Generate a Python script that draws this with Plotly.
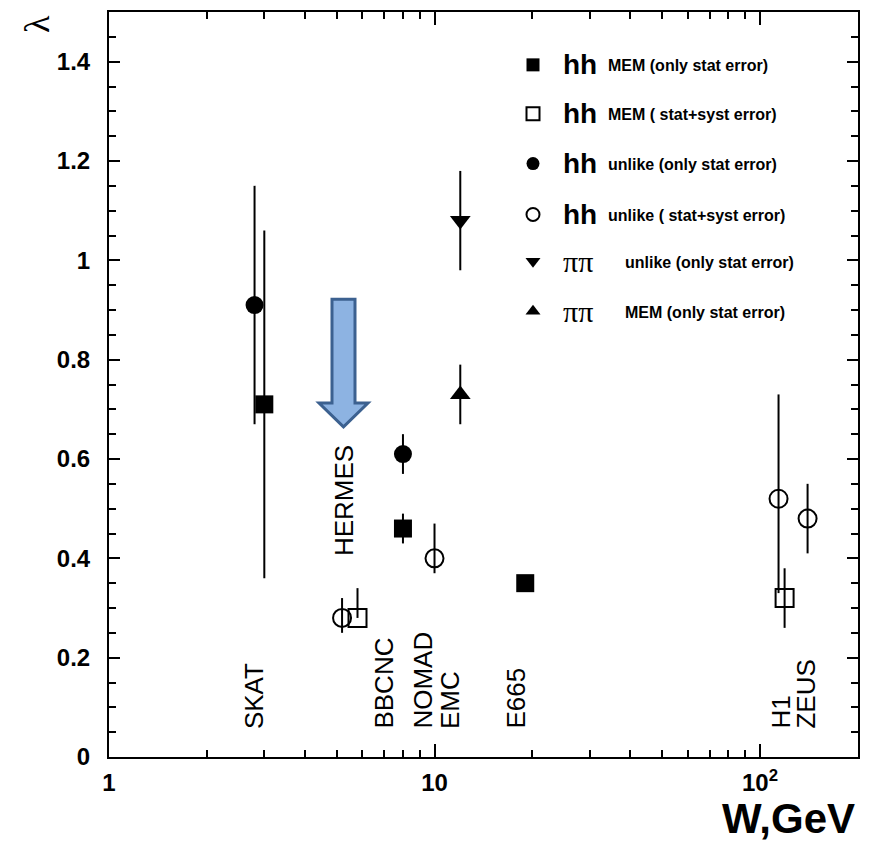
import plotly.graph_objects as go
import math

# ---------------- data ----------------
# hh MEM (only stat error) - filled squares
mem_stat_w = [3.0, 8.0, 19.0]
mem_stat_l = [0.71, 0.46, 0.35]
mem_stat_ep = [0.35, 0.03, 0.0]
mem_stat_em = [0.35, 0.03, 0.01]

# hh MEM (stat+syst error) - open squares
mem_sys_w = [5.8, 119.0]
mem_sys_l = [0.28, 0.32]
mem_sys_ep = [0.06, 0.06]
mem_sys_em = [0.0, 0.06]

# hh unlike (only stat error) - filled circles
unl_stat_w = [2.8, 8.0]
unl_stat_l = [0.91, 0.61]
unl_stat_ep = [0.24, 0.04]
unl_stat_em = [0.24, 0.04]

# hh unlike (stat+syst error) - open circles
unl_sys_w = [5.2, 10.0, 114.0, 140.0]
unl_sys_l = [0.28, 0.40, 0.52, 0.48]
unl_sys_ep = [0.04, 0.07, 0.21, 0.07]
unl_sys_em = [0.03, 0.03, 0.19, 0.07]

# pi pi unlike (only stat error) - down triangles
pp_unl_w = [12.0]
pp_unl_l = [1.08]
pp_unl_ep = [0.10]
pp_unl_em = [0.10]

# pi pi MEM (only stat error) - up triangles
pp_mem_w = [12.0]
pp_mem_l = [0.73]
pp_mem_ep = [0.06]
pp_mem_em = [0.06]

# experiment labels
exp_names = ["SKAT", "HERMES", "BBCNC", "NOMAD", "EMC", "E665", "H1", "ZEUS"]

legend_big = ["hh", "hh", "hh", "hh", "ππ", "ππ"]
legend_small = ["MEM (only stat error)", "MEM ( stat+syst error)",
                "unlike (only stat error)", "unlike ( stat+syst error)",
                "unlike (only stat error)", "MEM (only stat error)"]

x_tickvals = [1, 10, 100]
x_ticktext = ["1", "10", "10<sup>2</sup>"]

# ---------------- layout geometry (screen pixels) ----------------
OFF = 8                      # page body margin of the browser
SW, SH = 869, 851
W, H = SW - OFF, SH - OFF    # figure size
L, R, T, B = 109, 858, 10, 757  # plot area edges in screen pixels


def px(xp):
    return (xp - L) / (R - L)


def py(yp):
    return (B - yp) / (B - T)


FONT = "Liberation Sans"
BLK = "black"

fig = go.Figure()


def add_series(xs, ys, ep, em, symbol, size, filled=True):
    fig.add_trace(go.Scatter(
        x=xs, y=ys, mode="markers",
        marker=dict(symbol=symbol, size=size, color=BLK,
                    line=dict(color=BLK, width=2 if not filled else 0)),
        error_y=dict(type="data", symmetric=False, array=ep, arrayminus=em,
                     color=BLK, thickness=2, width=0),
        showlegend=False, hoverinfo="x+y"))


add_series(mem_stat_w, mem_stat_l, mem_stat_ep, mem_stat_em, "square", 18)
add_series(mem_sys_w, mem_sys_l, mem_sys_ep, mem_sys_em, "square-open", 18, False)
add_series(unl_stat_w, unl_stat_l, unl_stat_ep, unl_stat_em, "circle", 18)
add_series(unl_sys_w, unl_sys_l, unl_sys_ep, unl_sys_em, "circle-open", 18, False)
add_series(pp_unl_w, pp_unl_l, pp_unl_ep, pp_unl_em, "triangle-down", 18)
add_series(pp_mem_w, pp_mem_l, pp_mem_ep, pp_mem_em, "triangle-up", 18)

# ---------------- legend (custom) ----------------
leg_rows_y = [63, 112, 162, 213, 260, 310]
leg_symbols = ["square", "square-open", "circle", "circle-open", "triangle-down", "triangle-up"]
for yy, sym in zip(leg_rows_y, leg_symbols):
    fig.add_trace(go.Scatter(
        x=[px(533)], y=[py(yy)], xaxis="x2", yaxis="y2", mode="markers",
        marker=dict(symbol=sym, size=13, color=BLK,
                    line=dict(color=BLK, width=2 if "open" in sym else 0)),
        showlegend=False, hoverinfo="skip"))

annotations = []
for i, (yy, big, small) in enumerate(zip(leg_rows_y, legend_big, legend_small)):
    is_pi = big == "ππ"
    annotations.append(dict(
        x=px(561), y=py(yy), xref="paper", yref="paper", text=big,
        showarrow=False, xanchor="left", yanchor="middle",
        font=dict(family="Liberation Serif" if is_pi else FONT,
                  size=30 if is_pi else 28, color=BLK,
                  weight="normal" if is_pi else "bold")))
    annotations.append(dict(
        x=px(623 if is_pi else 606), y=py(yy + 1), xref="paper", yref="paper", text=small,
        showarrow=False, xanchor="left", yanchor="middle",
        font=dict(family=FONT, size=16, color=BLK, weight="bold")))

# experiment labels (rotated)
lab_x = [254, 344, 384, 423, 450, 516, 781, 806]
lab_y = [731, 558, 731, 731, 731, 731, 731, 731]
for name, xx, yy in zip(exp_names, lab_x, lab_y):
    annotations.append(dict(
        x=px(xx), y=py(yy), xref="paper", yref="paper", text=name,
        showarrow=False, textangle=-90, xanchor="center", yanchor="bottom",
        font=dict(family=FONT, size=26, color=BLK)))

# axis titles
annotations.append(dict(
    x=px(857), y=py(819), xref="paper", yref="paper", text="W,GeV",
    showarrow=False, xanchor="right", yanchor="middle",
    font=dict(family=FONT, size=42, color=BLK, weight="bold")))
annotations.append(dict(
    x=px(37), y=py(22), xref="paper", yref="paper", text="λ",
    showarrow=False, textangle=-90, xanchor="center", yanchor="middle",
    font=dict(family="Liberation Serif", size=36, color=BLK)))

# HERMES arrow
pts = [(332, 298), (355, 298), (355, 402), (368, 402), (343.5, 426), (319, 402), (332, 402)]
path = "M " + " L ".join(f"{px(a):.5f},{py(b):.5f}" for a, b in pts) + " Z"
shapes = [dict(type="path", xref="paper", yref="paper", path=path,
               fillcolor="#8DB3E2", line=dict(color="#3C6190", width=3))]

minor_x = [2, 3, 4, 5, 6, 7, 8, 9, 20, 30, 40, 50, 60, 70, 80, 90, 200]

fig.update_layout(
    width=W, height=H,
    margin=dict(l=L - OFF, r=SW - R, t=T - OFF, b=SH - B),
    paper_bgcolor="white", plot_bgcolor="white",
    font=dict(family=FONT, color=BLK),
    xaxis=dict(type="log", range=[0, math.log10(200)],
               showline=True, linecolor=BLK, linewidth=2, mirror="ticks",
               ticks="inside", ticklen=13, tickwidth=2, tickcolor=BLK,
               tickvals=x_tickvals, ticktext=x_ticktext,
               tickfont=dict(family=FONT, size=24, color=BLK, weight="bold"),
               ticklabelstandoff=3,
               minor=dict(tickvals=minor_x, ticks="inside", ticklen=7,
                          tickwidth=2, tickcolor=BLK, showgrid=False),
               showgrid=False, zeroline=False),
    yaxis=dict(range=[0, 1.5], showline=True, linecolor=BLK, linewidth=2,
               mirror="ticks", ticks="inside", ticklen=11, tickwidth=2,
               tickcolor=BLK, tickmode="array",
               tickvals=[0, 0.2, 0.4, 0.6, 0.8, 1.0, 1.2, 1.4],
               ticktext=["0", "0.2", "0.4", "0.6", "0.8", "1", "1.2", "1.4"],
               tickfont=dict(family=FONT, size=24, color=BLK, weight="bold"),
               ticklabelstandoff=12,
               minor=dict(dtick=0.05, ticks="inside", ticklen=7, tickwidth=2,
                          tickcolor=BLK, showgrid=False),
               showgrid=False, zeroline=False),
    xaxis2=dict(overlaying="x", range=[0, 1], visible=False),
    yaxis2=dict(overlaying="y", range=[0, 1], visible=False),
    annotations=annotations,
    shapes=shapes,
    showlegend=False,
)

fig.write_html("out.html")
